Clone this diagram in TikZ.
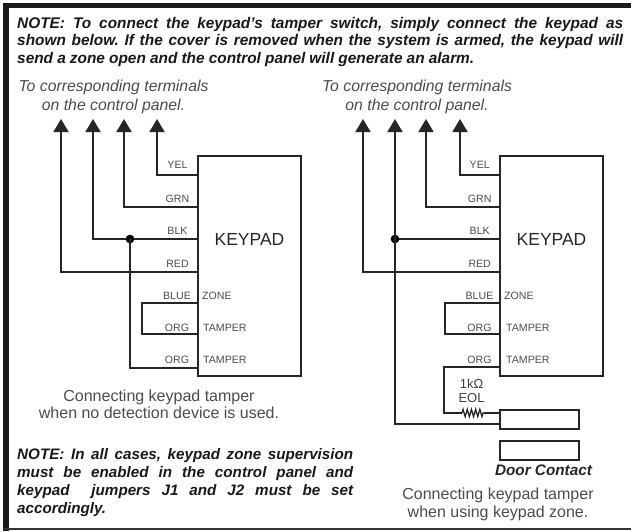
\documentclass[tikz,border=0pt]{standalone}
\usepackage{fontspec}
\setmainfont{Liberation Sans}
\frenchspacing
\usetikzlibrary{arrows.meta,decorations.pathmorphing}
\tikzset{
  wire/.style={draw=black!85,line width=1.6pt},
  up/.style={wire,-{Triangle[length=13pt,width=15pt]}},
  box/.style={draw=black!85,line width=1.6pt},
  tag/.style={font=\fontsize{10.6}{11}\selectfont,text=black!70,inner sep=0pt},
  note/.style={font=\fontsize{15.4}{17.5}\selectfont\bfseries\itshape,text=black!90,inner sep=0pt,align=left,anchor=north west},
  bnote/.style={note,font=\fontsize{15.2}{18.2}\selectfont\bfseries\itshape},
  ital/.style={font=\fontsize{15.8}{18.5}\selectfont\itshape,text=black!70,inner sep=0pt,align=center},
  capt/.style={font=\fontsize{16}{17.5}\selectfont,text=black!70,inner sep=0pt,align=center},
  kp/.style={font=\fontsize{17.5}{18}\selectfont,text=black!85,inner sep=0pt},
  dot/.style={circle,fill=black,inner sep=0pt,minimum size=8.7pt},
}
\begin{document}
\begin{tikzpicture}[x=1pt,y=-1pt]
\useasboundingbox (0,0) rectangle (631,531);
\fill[white] (0,0) rectangle (631,531);
\fill[black!90] (3,3) rectangle (631,7.5);
\fill[black!90] (3,3) rectangle (8.5,531);
\fill[black!80] (3,528) rectangle (631,529.5);

\node[note] (topnote) at (17,17) {\makebox[606pt][s]{NOTE: To connect the keypad's tamper switch, simply connect the keypad as}\\\makebox[606pt][s]{shown below. If the cover is removed when the system is armed, the keypad will}\\\makebox[457pt][s]{send a zone open and the control panel will generate an alarm.}};

% left
\node[ital] (ltxt) at (113.5,97) {To corresponding terminals\\on the control panel.};
\coordinate (la) at (61,119); \coordinate (lb) at (93,119); \coordinate (lc) at (124,119); \coordinate (ld) at (157,119);
\draw[box] (198,156) rectangle (301,376);
\draw[up] (198,175) -- (157,175) -- (ld);
\draw[up] (198,207) -- (124,207) -- (lc);
\draw[up] (198,239) -- (93,239) -- (lb);
\draw[up] (198,272) -- (61,272) -- (la);
\node[dot] (ljn) at (130,239) {};
\draw[wire] (ljn.center) -- (130,368) -- (198,368);
\draw[wire] (198,303) -- (142,303) -- (142,334) -- (198,334);
\node[kp] (lkp) at (249.5,239) {KEYPAD};
\node[tag] at (177.5,164.5) {YEL};
\node[tag] at (177.5,199) {GRN};
\node[tag] at (177.5,231) {BLK};
\node[tag] at (177.5,264) {RED};
\node[tag] at (177,296) {BLUE};
\node[tag] at (177,327.5) {ORG};
\node[tag] at (177,359.5) {ORG};
\node[tag,anchor=west] at (202,296) {ZONE};
\node[tag,anchor=west] at (203,327.5) {TAMPER};
\node[tag,anchor=west] at (203,359.5) {TAMPER};
\node[capt] (lcap) at (159,404.5) {Connecting keypad tamper\\when no detection device is used.};
\node[bnote] (botnote) at (17,448) {\makebox[336pt][s]{NOTE: In all cases, keypad zone supervision}\\\makebox[336pt][s]{must be enabled in the control panel and}\\\makebox[336pt][s]{keypad\ \ jumpers J1 and J2 must be set}\\accordingly.};

% right
\node[ital] (rtxt) at (417,97) {To corresponding terminals\\on the control panel.};
\coordinate (ra) at (363,119); \coordinate (rb) at (395,119); \coordinate (rc) at (426,119); \coordinate (rd) at (460,119);
\draw[box] (500,156) rectangle (603,376);
\draw[up] (500,175) -- (460,175) -- (rd);
\draw[up] (500,207) -- (426,207) -- (rc);
\draw[wire] (500,239) -- (395,239);
\draw[up] (500,272) -- (363,272) -- (ra);
\draw[box] (500,410) rectangle (579,429);
\draw[box] (500,441) rectangle (579,460);
\node[dot] (rjn) at (395,239) {};
\draw[up] (500,424) -- (395,424) -- (rb);
\draw[wire] (500,303) -- (445,303) -- (445,334) -- (500,334);
\coordinate (r1) at (462,413);
\coordinate (r2) at (484,413);
\draw[wire] (500,367) -- (444,367) -- (444,413) -- (r1);
\draw[wire] (r2) -- (500,413);
\draw[wire,line width=1.3pt,decorate,decoration={zigzag,amplitude=3.6pt,segment length=4.2pt}] (r1) -- (r2);
\node[kp] (rkp) at (551.5,239) {KEYPAD};
\node[tag] at (479.7,164.5) {YEL};
\node[tag] at (479.7,199) {GRN};
\node[tag] at (479.7,231) {BLK};
\node[tag] at (479.7,264) {RED};
\node[tag] at (479.5,296) {BLUE};
\node[tag] at (479.5,327.5) {ORG};
\node[tag] at (479.5,359.5) {ORG};
\node[tag,anchor=west] at (504,296) {ZONE};
\node[tag,anchor=west] at (506,327.5) {TAMPER};
\node[tag,anchor=west] at (506,359.5) {TAMPER};
\node[font=\fontsize{13}{14}\selectfont,text=black!75,inner sep=0pt,align=center] (eol) at (471.5,391) {1kΩ\\EOL};
\node[font=\fontsize{15.3}{16}\selectfont\bfseries\itshape,text=black!85,inner sep=0pt] (dc) at (543.5,470) {Door Contact};
\node[capt] (rcap) at (498,504.5) {Connecting keypad tamper\\when using keypad zone.};
\end{tikzpicture}
\end{document}
